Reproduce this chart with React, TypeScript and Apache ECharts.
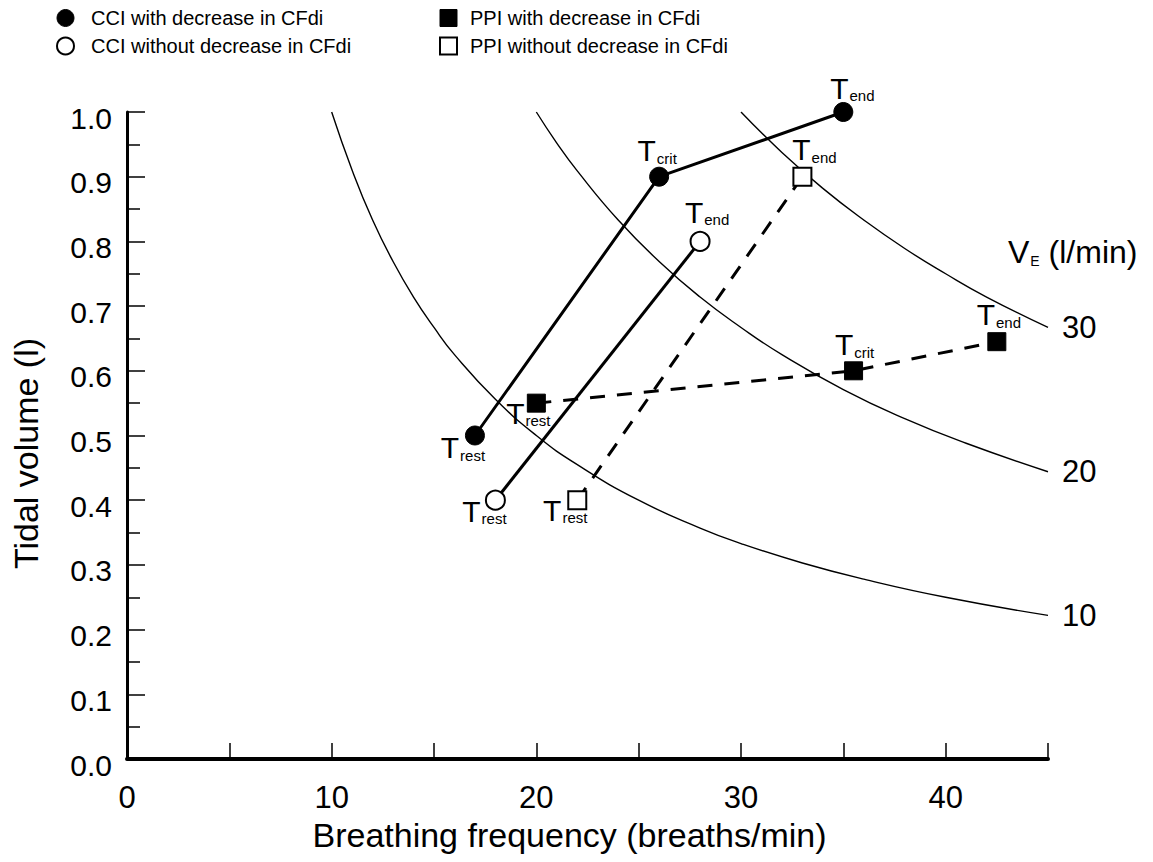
import React, { useEffect, useRef } from "react";
import * as echarts from "echarts";

// ---- data ----
const xTickValues = [0, 5, 10, 15, 20, 25, 30, 35, 40, 45];
const yTickValues = [0, 0.1, 0.2, 0.3, 0.4, 0.5, 0.6, 0.7, 0.8, 0.9, 1.0];

const cciWithDecrease = [[17, 0.5], [26, 0.9], [35, 1.0]];
const cciWithDecreasePhases = ["rest", "crit", "end"];
const cciWithoutDecrease = [[18, 0.4], [28, 0.8]];
const cciWithoutDecreasePhases = ["rest", "end"];
const ppiWithDecrease = [[20, 0.55], [35.5, 0.6], [42.5, 0.645]];
const ppiWithDecreasePhases = ["rest", "crit", "end"];
const ppiWithoutDecrease = [[22, 0.4], [33, 0.9]];
const ppiWithoutDecreasePhases = ["rest", "end"];

// ventilation isopleths (VE in l/min)
const isoLabels = ["10", "20", "30"];
const iso10 = [[10, 1.0], [11, 0.91], [12, 0.833], [13, 0.769], [14, 0.714], [15, 0.667], [16, 0.625], [18, 0.556], [20, 0.5], [22, 0.455], [25, 0.4], [28, 0.357], [30, 0.333], [33, 0.303], [36, 0.278], [40, 0.25], [45, 0.222]];
const iso20 = [[20, 1.0], [21, 0.952], [22, 0.909], [24, 0.833], [26, 0.769], [28, 0.714], [30, 0.667], [32, 0.625], [35, 0.571], [38, 0.526], [41, 0.488], [45, 0.444]];
const iso30 = [[30, 1.0], [32, 0.9375], [34, 0.882], [36, 0.833], [38, 0.789], [40, 0.75], [42, 0.714], [45, 0.667]];

const legendNames = [
  "CCI with decrease in CFdi",
  "CCI without decrease in CFdi",
  "PPI with decrease in CFdi",
  "PPI without decrease in CFdi",
];

// ---- styling (label offsets relative to each marker) ----
const FONT = "'Liberation Sans', Arial, Helvetica, sans-serif";
const cciWithOffsets = [[-12, 12], [-2, -26], [9, -24]];
const cciWithoutOffsets = [[-11, 11], [7, -29]];
const ppiWithOffsets = [[-8, 10], [1, -26], [2, -27]];
const ppiWithoutOffsets = [[-12, 10], [12, -27]];

const rich = {
  t: { fontSize: 30, lineHeight: 30, padding: [0, 1, 5, 0], verticalAlign: "top", fontFamily: FONT, color: "#000" },
  s: { fontSize: 15, lineHeight: 16, verticalAlign: "bottom", fontFamily: FONT, color: "#000" },
};

function buildPoints(points: number[][], phases: string[], offsets: number[][]) {
  return points.map((p, i) => ({
    value: p,
    label: {
      show: true,
      position: "inside",
      align: "center",
      verticalAlign: "middle",
      offset: offsets[i],
      formatter: "{t|T}{s|" + phases[i] + "}",
      rich,
    },
  }));
}

function isoSeries(data: number[][], label: string) {
  return {
    type: "line",
    data,
    smooth: true,
    symbol: "none",
    silent: true,
    z: 1,
    lineStyle: { color: "#000", width: 1.4 },
    endLabel: {
      show: true,
      formatter: label,
      distance: 14,
      fontSize: 31,
      fontFamily: FONT,
      color: "#000",
    },
  };
}

export default function App() {
  const ref = useRef<HTMLDivElement>(null);
  useEffect(() => {
    if (!ref.current) return;
    const chart = echarts.init(ref.current, undefined, { renderer: "svg" });
    const filled = { color: "#000", borderColor: "#000", borderWidth: 1 };
    const open = { color: "#fff", borderColor: "#000", borderWidth: 2 };
    const option = {
      animation: false,
      backgroundColor: "#fff",
      textStyle: { fontFamily: FONT },
      grid: { left: 127, right: 105, top: 112, bottom: 103, containLabel: false },
      legend: [
        {
          left: 51,
          top: 3,
          orient: "vertical",
          itemGap: 8,
          itemWidth: 17,
          itemHeight: 17,
          textStyle: { fontSize: 20, fontFamily: FONT, color: "#000", padding: [0, 0, 0, 12] },
          selectedMode: false,
          data: [
            { name: legendNames[0], icon: "circle", itemStyle: filled },
            { name: legendNames[1], icon: "circle", itemStyle: open },
          ],
        },
        {
          left: 434,
          top: 3,
          orient: "vertical",
          itemGap: 8,
          itemWidth: 17,
          itemHeight: 17,
          textStyle: { fontSize: 20, fontFamily: FONT, color: "#000", padding: [0, 0, 0, 8] },
          selectedMode: false,
          data: [
            { name: legendNames[2], icon: "rect", itemStyle: filled },
            { name: legendNames[3], icon: "rect", itemStyle: open },
          ],
        },
      ],
      xAxis: {
        type: "value",
        min: xTickValues[0],
        max: xTickValues[xTickValues.length - 1],
        interval: 5,
        name: "Breathing frequency (breaths/min)",
        nameLocation: "middle",
        nameGap: 58,
        nameTextStyle: { fontSize: 34, fontFamily: FONT, color: "#000", padding: [0, 36, 0, 0] },
        splitLine: { show: false },
        axisLine: { show: true, onZero: false, lineStyle: { color: "#000", width: 4 } },
        axisTick: { show: true, inside: true, length: 16, lineStyle: { color: "#000", width: 1.5 } },
        axisLabel: {
          margin: 23,
          fontSize: 31,
          fontFamily: FONT,
          color: "#000",
          formatter: (v: number) => (v % 10 === 0 && v < 45 ? String(v) : ""),
        },
      },
      yAxis: {
        type: "value",
        min: yTickValues[0],
        max: yTickValues[yTickValues.length - 1],
        interval: 0.1,
        name: "Tidal volume (l)",
        nameLocation: "middle",
        nameGap: 84,
        nameTextStyle: { fontSize: 34, fontFamily: FONT, color: "#000", padding: [0, 36, 0, 0] },
        splitLine: { show: false },
        axisLine: { show: true, onZero: false, lineStyle: { color: "#000", width: 3 } },
        axisTick: { show: true, inside: true, length: 18, lineStyle: { color: "#000", width: 1.5 } },
        minorTick: { show: true, splitNumber: 2, length: 13, lineStyle: { color: "#000", width: 1.5 } },
        axisLabel: {
          margin: 15,
          fontSize: 30,
          fontFamily: FONT,
          color: "#000",
          verticalAlign: "top",
          lineHeight: 12,
          formatter: (v: number) => v.toFixed(1),
        },
      },
      graphic: [
        {
          type: "text",
          left: 1008,
          top: 236,
          style: {
            text: "{v|V}{e|E}{u| (l/min)}",
            rich: {
              v: { fontSize: 32, lineHeight: 32, padding: [0, 1, 4, 0], verticalAlign: "top", fontFamily: FONT, fill: "#000" },
              e: { fontSize: 14, lineHeight: 16, verticalAlign: "bottom", fontFamily: FONT, fill: "#000" },
              u: { fontSize: 32, lineHeight: 32, padding: [0, 0, 4, 0], verticalAlign: "top", fontFamily: FONT, fill: "#000" },
            },
          },
        },
      ],
      series: [
        isoSeries(iso10, isoLabels[0]),
        isoSeries(iso20, isoLabels[1]),
        isoSeries(iso30, isoLabels[2]),
        {
          name: legendNames[0],
          type: "line",
          z: 3,
          data: buildPoints(cciWithDecrease, cciWithDecreasePhases, cciWithOffsets),
          symbol: "circle",
          symbolSize: 19,
          itemStyle: filled,
          lineStyle: { color: "#000", width: 3 },
        },
        {
          name: legendNames[1],
          type: "line",
          z: 3,
          data: buildPoints(cciWithoutDecrease, cciWithoutDecreasePhases, cciWithoutOffsets),
          symbol: "circle",
          symbolSize: 19,
          itemStyle: open,
          lineStyle: { color: "#000", width: 3 },
        },
        {
          name: legendNames[2],
          type: "line",
          z: 3,
          data: buildPoints(ppiWithDecrease, ppiWithDecreasePhases, ppiWithOffsets),
          symbol: "rect",
          symbolSize: 18,
          itemStyle: filled,
          lineStyle: { color: "#000", width: 3, type: [15, 12] },
        },
        {
          name: legendNames[3],
          type: "line",
          z: 3,
          data: buildPoints(ppiWithoutDecrease, ppiWithoutDecreasePhases, ppiWithoutOffsets),
          symbol: "rect",
          symbolSize: 18,
          itemStyle: open,
          lineStyle: { color: "#000", width: 3, type: [15, 12] },
        },
      ],
    };
    chart.setOption(option as any);
    return () => chart.dispose();
  }, []);
  return <div ref={ref} style={{ width: 1153, height: 862, margin: -8 }} />;
}
